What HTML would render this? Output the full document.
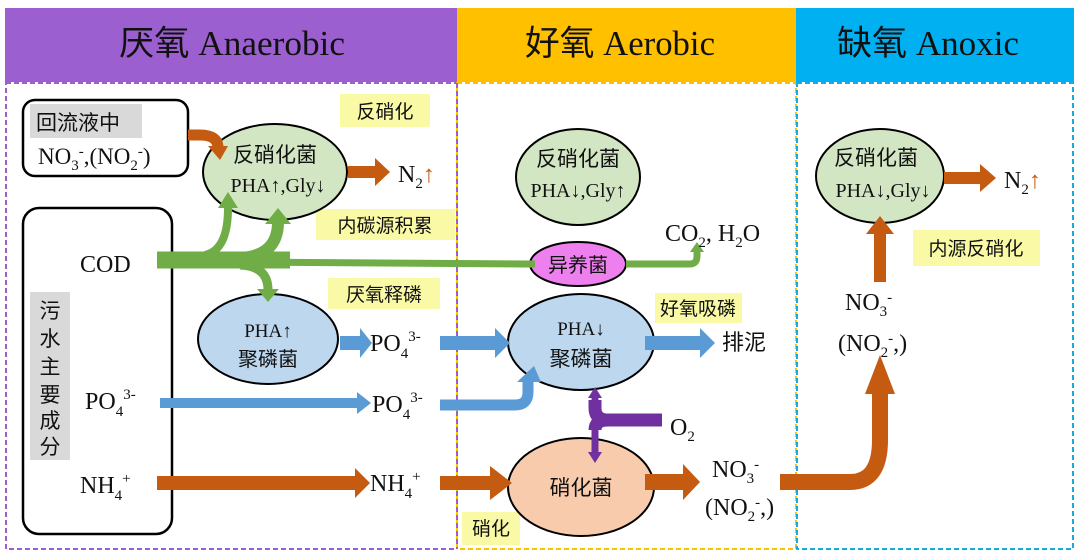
<!DOCTYPE html>
<html><head><meta charset="utf-8"><style>
body{margin:0;background:#fff}
svg{display:block}
text{font-family:"Liberation Serif","Noto Serif CJK SC",serif;fill:#111}
.c{font-family:"Liberation Sans","Noto Sans CJK SC",sans-serif}
</style></head><body>
<svg width="1080" height="559" viewBox="0 0 1080 559" xmlns="http://www.w3.org/2000/svg">
<!-- headers -->
<rect x="5" y="8" width="452" height="74" fill="#9b5fcf"/>
<rect x="457" y="8" width="339" height="74" fill="#ffc000"/>
<rect x="796" y="8" width="278" height="74" fill="#00b0f0"/>
<g transform="translate(0,55) scale(1,1.12)">
<text x="232" y="0" font-size="31" text-anchor="middle" textLength="226" lengthAdjust="spacingAndGlyphs"><tspan class="c">厌氧</tspan> Anaerobic</text>
<text x="620" y="0" font-size="31" text-anchor="middle" textLength="190" lengthAdjust="spacingAndGlyphs"><tspan class="c">好氧</tspan> Aerobic</text>
<text x="928" y="0" font-size="31" text-anchor="middle" textLength="182" lengthAdjust="spacingAndGlyphs"><tspan class="c">缺氧</tspan> Anoxic</text>
</g>
<!-- dashed zones -->
<rect x="6" y="83" width="451" height="466" fill="none" stroke="#9b5fcf" stroke-width="2" stroke-dasharray="5,3"/>
<rect x="457" y="83" width="339" height="466" fill="none" stroke="#ffc000" stroke-width="2" stroke-dasharray="5,3"/>
<rect x="797" y="83" width="276" height="466" fill="none" stroke="#1ba9e0" stroke-width="2" stroke-dasharray="5,3"/>
<line x1="457" y1="83" x2="457" y2="549" stroke="#9b5fcf" stroke-width="2" stroke-dasharray="5,3"/>

<!-- yellow labels -->
<rect x="340" y="94" width="90" height="33" fill="#fafaa6"/><text class="c" x="385" y="118" text-anchor="middle" font-size="19">反硝化</text>
<rect x="316" y="209" width="139" height="31" fill="#fafaa6"/><text class="c" x="385" y="232" text-anchor="middle" font-size="19">内碳源积累</text>
<rect x="328" y="278" width="112" height="31" fill="#fafaa6"/><text class="c" x="384" y="301" text-anchor="middle" font-size="19">厌氧释磷</text>
<rect x="655" y="293" width="87" height="30" fill="#fafaa6"/><text class="c" x="698" y="315" text-anchor="middle" font-size="19">好氧吸磷</text>
<rect x="462" y="512" width="58" height="33" fill="#fafaa6"/><text class="c" x="491" y="535" text-anchor="middle" font-size="19">硝化</text>
<rect x="913" y="230" width="127" height="36" fill="#fafaa6"/><text class="c" x="976" y="255" text-anchor="middle" font-size="19">内源反硝化</text>

<!-- 回流液 box -->
<rect x="23" y="100" width="165" height="76" rx="12" fill="#fff" stroke="#000" stroke-width="2.5"/>
<rect x="30" y="104" width="112" height="34" fill="#d9d9d9"/>
<text class="c" x="36" y="130" font-size="21">回流液中</text>
<text x="38" y="164" font-size="23">NO<tspan font-size="15" dy="6">3</tspan><tspan font-size="15" dy="-14">-</tspan><tspan dy="8">,(NO</tspan><tspan font-size="15" dy="6">2</tspan><tspan font-size="15" dy="-14">-</tspan><tspan dy="8">)</tspan></text>

<!-- source box -->
<rect x="23" y="208" width="149" height="326" rx="16" fill="#fff" stroke="#000" stroke-width="2.5"/>
<rect x="30" y="292" width="40" height="168" fill="#d9d9d9"/>
<g text-anchor="middle">
<text class="c" font-size="21" x="50" y="318">污</text><text class="c" font-size="21" x="50" y="346">水</text><text class="c" font-size="21" x="50" y="374">主</text><text class="c" font-size="21" x="50" y="402">要</text><text class="c" font-size="21" x="50" y="428">成</text><text class="c" font-size="21" x="50" y="454">分</text>
</g>
<text x="80" y="272" font-size="24">COD</text>
<text x="85" y="409" font-size="24">PO<tspan font-size="15" dy="7">4</tspan><tspan font-size="15" dy="-17">3-</tspan></text>
<text x="80" y="493" font-size="24">NH<tspan font-size="15" dy="7">4</tspan><tspan font-size="15" dy="-17">+</tspan></text>

<!-- ellipses -->
<ellipse cx="275" cy="172" rx="72" ry="48" fill="#d3e6c3" stroke="#000" stroke-width="2"/>
<ellipse cx="578" cy="177" rx="62" ry="48" fill="#d3e6c3" stroke="#000" stroke-width="2"/>
<ellipse cx="880" cy="176" rx="64" ry="47" fill="#d3e6c3" stroke="#000" stroke-width="2"/>
<ellipse cx="578" cy="264" rx="48" ry="22" fill="#ee7fee" stroke="#000" stroke-width="2"/>
<ellipse cx="268" cy="339" rx="70" ry="45" fill="#bdd7ee" stroke="#000" stroke-width="2"/>
<ellipse cx="581" cy="342" rx="73" ry="48" fill="#bdd7ee" stroke="#000" stroke-width="2"/>
<ellipse cx="581" cy="487" rx="73" ry="49" fill="#f8cbad" stroke="#000" stroke-width="2"/>

<!-- orange curved arrow from box -->
<path d="M188,135 L200,135 Q218,135 218,148" fill="none" stroke="#c55a11" stroke-width="11"/>
<path d="M208,146 L228,146 L220,160Z" fill="#c55a11"/>

<!-- green COD arrows -->
<path d="M157,260 L290,260" stroke="#70ad47" stroke-width="17"/>
<path d="M230,262 L530,264 M626,264 L690,264 Q697,264 697,256 L697,250" fill="none" stroke="#70ad47" stroke-width="7"/>
<path d="M690,252 L704,252 L697,242Z" fill="#70ad47"/>
<path d="M205,255 Q228,250 228,208" fill="none" stroke="#70ad47" stroke-width="8"/>
<path d="M218,208 L238,208 L228,192Z" fill="#70ad47"/>
<path d="M240,258 Q278,256 278,222" fill="none" stroke="#70ad47" stroke-width="12"/>
<path d="M265,224 L291,224 L278,208Z" fill="#70ad47"/>
<path d="M240,265 Q268,266 268,290" fill="none" stroke="#70ad47" stroke-width="9"/>
<path d="M257,289 L279,289 L268,302Z" fill="#70ad47"/>
<path d="M519,264 L535,264" stroke="#70ad47" stroke-width="7"/>

<!-- ellipse texts -->
<text class="c" x="275" y="162" font-size="21" text-anchor="middle">反硝化菌</text>
<text x="278" y="192" font-size="20" text-anchor="middle">PHA↑,Gly↓</text>
<text class="c" x="578" y="166" font-size="21" text-anchor="middle">反硝化菌</text>
<text x="578" y="197" font-size="20" text-anchor="middle">PHA↓,Gly↑</text>
<text class="c" x="876" y="165" font-size="21" text-anchor="middle">反硝化菌</text>
<text x="883" y="197" font-size="20" text-anchor="middle">PHA↓,Gly↓</text>
<text class="c" x="578" y="272" font-size="20" text-anchor="middle">异养菌</text>
<text x="268" y="337" font-size="19" text-anchor="middle">PHA↑</text>
<text class="c" x="268" y="366" font-size="20" text-anchor="middle">聚磷菌</text>
<text x="581" y="335" font-size="19" text-anchor="middle">PHA↓</text>
<text class="c" x="581" y="366" font-size="21" text-anchor="middle">聚磷菌</text>
<text class="c" x="581" y="495" font-size="21" text-anchor="middle">硝化菌</text>

<!-- N2 arrows -->
<path d="M348,166 L375,166 L375,158 L390,172 L375,186 L375,178 L348,178Z" fill="#c55a11"/>
<text x="398" y="182" font-size="24">N<tspan font-size="15" dy="6">2</tspan><tspan dy="-6" fill="#c55a11" class="c">↑</tspan></text>
<path d="M944,172 L980,172 L980,164 L996,178 L980,192 L980,184 L944,184Z" fill="#c55a11"/>
<text x="1004" y="188" font-size="24">N<tspan font-size="15" dy="6">2</tspan><tspan dy="-6" fill="#c55a11" class="c">↑</tspan></text>

<text x="665" y="241" font-size="24">CO<tspan font-size="15" dy="6">2</tspan><tspan dy="-6">, H</tspan><tspan font-size="15" dy="6">2</tspan><tspan dy="-6">O</tspan></text>

<!-- blue arrows -->
<path d="M340,336 L360,336 L360,328 L372,343 L360,358 L360,350 L340,350Z" fill="#5b9bd5"/>
<text x="370" y="351" font-size="24">PO<tspan font-size="15" dy="7">4</tspan><tspan font-size="15" dy="-17">3-</tspan></text>
<path d="M440,336 L495,336 L495,328 L510,343 L495,358 L495,350 L440,350Z" fill="#5b9bd5"/>
<path d="M645,336 L700,336 L700,328 L715,343 L700,358 L700,350 L645,350Z" fill="#5b9bd5"/>
<text class="c" x="722" y="350" font-size="22">排泥</text>
<path d="M160,398 L357,398 L357,392 L371,403 L357,414 L357,408 L160,408Z" fill="#5b9bd5"/>
<text x="372" y="412" font-size="24">PO<tspan font-size="15" dy="7">4</tspan><tspan font-size="15" dy="-17">3-</tspan></text>
<path d="M440,405 L515,405 Q528,405 528,392 L528,380" fill="none" stroke="#5b9bd5" stroke-width="11"/>
<path d="M517,382 L541,382 L534,366Z" fill="#5b9bd5"/>

<!-- purple O2 -->
<path d="M662,420 L608,420 Q595,420 595,408 L595,400 M595,430 Q595,420 608,420" fill="none" stroke="#7030a0" stroke-width="13"/>
<path d="M595,420 L595,455" stroke="#7030a0" stroke-width="7"/>
<path d="M595,396 L595,410" stroke="#7030a0" stroke-width="7"/>
<path d="M588,398 L602,398 L595,387Z" fill="#7030a0"/>
<path d="M588,452 L602,452 L595,463Z" fill="#7030a0"/>
<text x="670" y="435" font-size="24">O<tspan font-size="15" dy="6">2</tspan></text>

<!-- orange NH4 -->
<path d="M157,476 L355,476 L355,468 L370,483 L355,498 L355,490 L157,490Z" fill="#c55a11"/>
<text x="370" y="491" font-size="24">NH<tspan font-size="15" dy="7">4</tspan><tspan font-size="15" dy="-17">+</tspan></text>
<path d="M440,476 L490,476 L490,466 L512,483 L490,500 L490,490 L440,490Z" fill="#c55a11"/>
<path d="M645,474 L683,474 L683,464 L700,482 L683,500 L683,490 L645,490Z" fill="#c55a11"/>
<text x="712" y="477" font-size="24">NO<tspan font-size="15" dy="6">3</tspan><tspan font-size="15" dy="-14">-</tspan></text>
<text x="705" y="515" font-size="24">(NO<tspan font-size="15" dy="6">2</tspan><tspan font-size="15" dy="-14">-</tspan><tspan dy="8">,)</tspan></text>
<path d="M780,482 L850,482 Q880,482 880,440 L880,392" fill="none" stroke="#c55a11" stroke-width="16"/>
<path d="M865,394 L895,394 L880,355Z" fill="#c55a11"/>
<text x="845" y="310" font-size="24">NO<tspan font-size="15" dy="6">3</tspan><tspan font-size="15" dy="-14">-</tspan></text>
<text x="838" y="351" font-size="24">(NO<tspan font-size="15" dy="6">2</tspan><tspan font-size="15" dy="-14">-</tspan><tspan dy="8">,)</tspan></text>
<path d="M874,282 L874,234 L866,234 L880,216 L894,234 L886,234 L886,282Z" fill="#c55a11"/>
</svg>
</body></html>
